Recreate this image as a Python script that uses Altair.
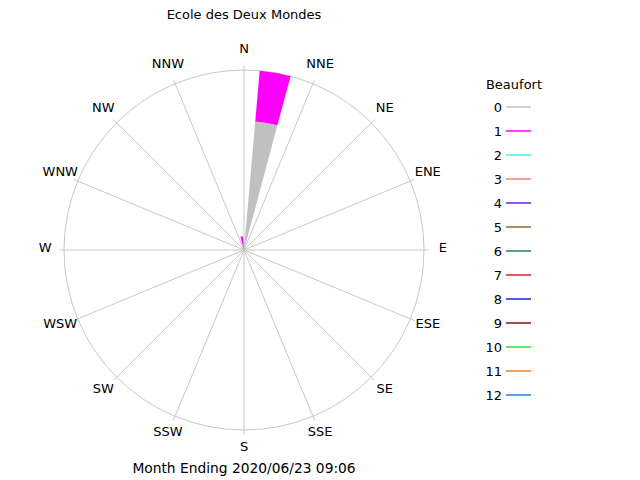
import altair as alt
import pandas as pd

title_text = "Ecole des Deux Mondes"
footer_text = "Month Ending 2020/06/23 09:06"

compass_labels = ["N", "NNE", "NE", "ENE", "E", "ESE", "SE", "SSE",
                  "S", "SSW", "SW", "WSW", "W", "WNW", "NW", "NNW"]
compass_angles = [0, 22.5, 45, 67.5, 90, 112.5, 135, 157.5,
                  180, 202.5, 225, 247.5, 270, 292.5, 315, 337.5]

# wind direction bins (degrees) and frequency per Beaufort class
wind_dirs = [350, 10]
beaufort0_vals = [0.0, 71.7]
beaufort1_vals = [7.6, 28.3]

beaufort_levels = [str(i) for i in range(13)]
beaufort_colors = ["#c0c0c0", "#ff00ff", "#40f0f0", "#f08080", "#7020e0",
                   "#a06030", "#208060", "#e02020", "#2020d0", "#801010",
                   "#30e030", "#f08020", "#2080e0"]

W, H = 624, 470
CX, CY, R = 236, 242, 180.0
GRID = "#c8c8c8"
FONT = "DejaVu Sans"
FS = 13

xs = alt.Scale(domain=[-CX / R, (W - CX) / R], nice=False, zero=False)
ys = alt.Scale(domain=[-(H - CY) / R, CY / R], nice=False, zero=False)
ts = alt.Scale(domain=[0, 360], range=[0, 6.283185307179586], nice=False, zero=False)
rmax = 100.0
rs = alt.Scale(domain=[0, rmax], range=[0, R], nice=False, zero=True)

compass_df = pd.DataFrame({"label": compass_labels, "angle": compass_angles})

rows = []
for d, v0, v1 in zip(wind_dirs, beaufort0_vals, beaufort1_vals):
    rows.append({"dir": d, "beaufort": "0", "bnum": 0, "value": v0})
    rows.append({"dir": d, "beaufort": "1", "bnum": 1, "value": v1})
wedge_df = pd.DataFrame(rows)

legend_df = pd.DataFrame({"level": beaufort_levels, "color": beaufort_colors})
circle_df = pd.DataFrame({"t0": [0], "t1": [360], "r": [rmax]})

spokes = alt.Chart(compass_df).transform_calculate(
    x0="0", y0="0",
    x1="1.025*sin(datum.angle*PI/180)",
    y1="1.025*cos(datum.angle*PI/180)",
).mark_rule(color=GRID, strokeWidth=1).encode(
    x=alt.X("x0:Q", scale=xs, axis=None),
    y=alt.Y("y0:Q", scale=ys, axis=None),
    x2="x1:Q",
    y2="y1:Q",
)

circle = alt.Chart(circle_df).transform_calculate(cx="0", cy="0").mark_arc(
    filled=False, stroke=GRID, strokeWidth=1
).encode(
    x=alt.X("cx:Q", scale=xs, axis=None),
    y=alt.Y("cy:Q", scale=ys, axis=None),
    theta=alt.Theta("t0:Q", scale=ts, stack=False),
    theta2="t1:Q",
    radius=alt.Radius("r:Q", scale=rs),
)

labels = alt.Chart(compass_df).transform_calculate(
    lx="1.105*sin(datum.angle*PI/180)",
    ly="1.105*cos(datum.angle*PI/180) + 0.01",
).mark_text(font=FONT, fontSize=FS, color="black", align="center", baseline="middle").encode(
    x=alt.X("lx:Q", scale=xs, axis=None),
    y=alt.Y("ly:Q", scale=ys, axis=None),
    text="label:N",
)

wedges = alt.Chart(wedge_df).transform_stack(
    stack="value", groupby=["dir"], as_=["r0", "r1"],
    sort=[alt.SortField("bnum", order="ascending")],
).transform_calculate(
    t0="datum.dir - 5", t1="datum.dir + 5", cx="0", cy="0"
).mark_arc(strokeWidth=0).encode(
    x=alt.X("cx:Q", scale=xs, axis=None),
    y=alt.Y("cy:Q", scale=ys, axis=None),
    theta=alt.Theta("t0:Q", scale=ts, stack=False),
    theta2="t1:Q",
    radius=alt.Radius("r1:Q", scale=rs),
    radius2="r0:Q",
    color=alt.Color("beaufort:N", scale=alt.Scale(domain=beaufort_levels, range=beaufort_colors), legend=None),
)

lscale = alt.Scale(type="point", domain=beaufort_levels, range=[99, 387], padding=0)
legend_text = alt.Chart(legend_df).mark_text(
    font=FONT, fontSize=FS, color="black", align="right", baseline="middle", dy=1
).encode(
    x=alt.value(494),
    y=alt.Y("level:O", scale=lscale, axis=None, sort=beaufort_levels),
    text="level:N",
)
legend_lines = alt.Chart(legend_df).mark_rule(strokeWidth=1.5).encode(
    x=alt.value(498),
    x2=alt.value(523),
    y=alt.Y("level:O", scale=lscale, axis=None, sort=beaufort_levels),
    color=alt.Color("color:N", scale=None, legend=None),
)
legend_title = alt.Chart(pd.DataFrame({"t": ["Beaufort"]})).mark_text(
    font=FONT, fontSize=FS, color="black", align="center", baseline="middle"
).encode(x=alt.value(506), y=alt.value(77), text="t:N")

title_mark = alt.Chart(pd.DataFrame({"t": [title_text]})).mark_text(
    font=FONT, fontSize=FS, color="black", align="center", baseline="middle"
).encode(x=alt.value(CX), y=alt.value(7), text="t:N")

footer_mark = alt.Chart(pd.DataFrame({"t": [footer_text]})).mark_text(
    font=FONT, fontSize=13.8, color="black", align="center", baseline="middle"
).encode(x=alt.value(CX), y=alt.value(461), text="t:N")

chart = alt.layer(
    spokes, circle, wedges, labels, legend_lines, legend_text, legend_title,
    title_mark, footer_mark
).resolve_scale(y="independent", x="independent").properties(
    width=W, height=H, autosize=alt.AutoSizeParams(type="none"), padding=0,
    background="white",
).configure_view(stroke=None)

chart.save("out.html", embed_options={"renderer": "svg", "actions": False})
